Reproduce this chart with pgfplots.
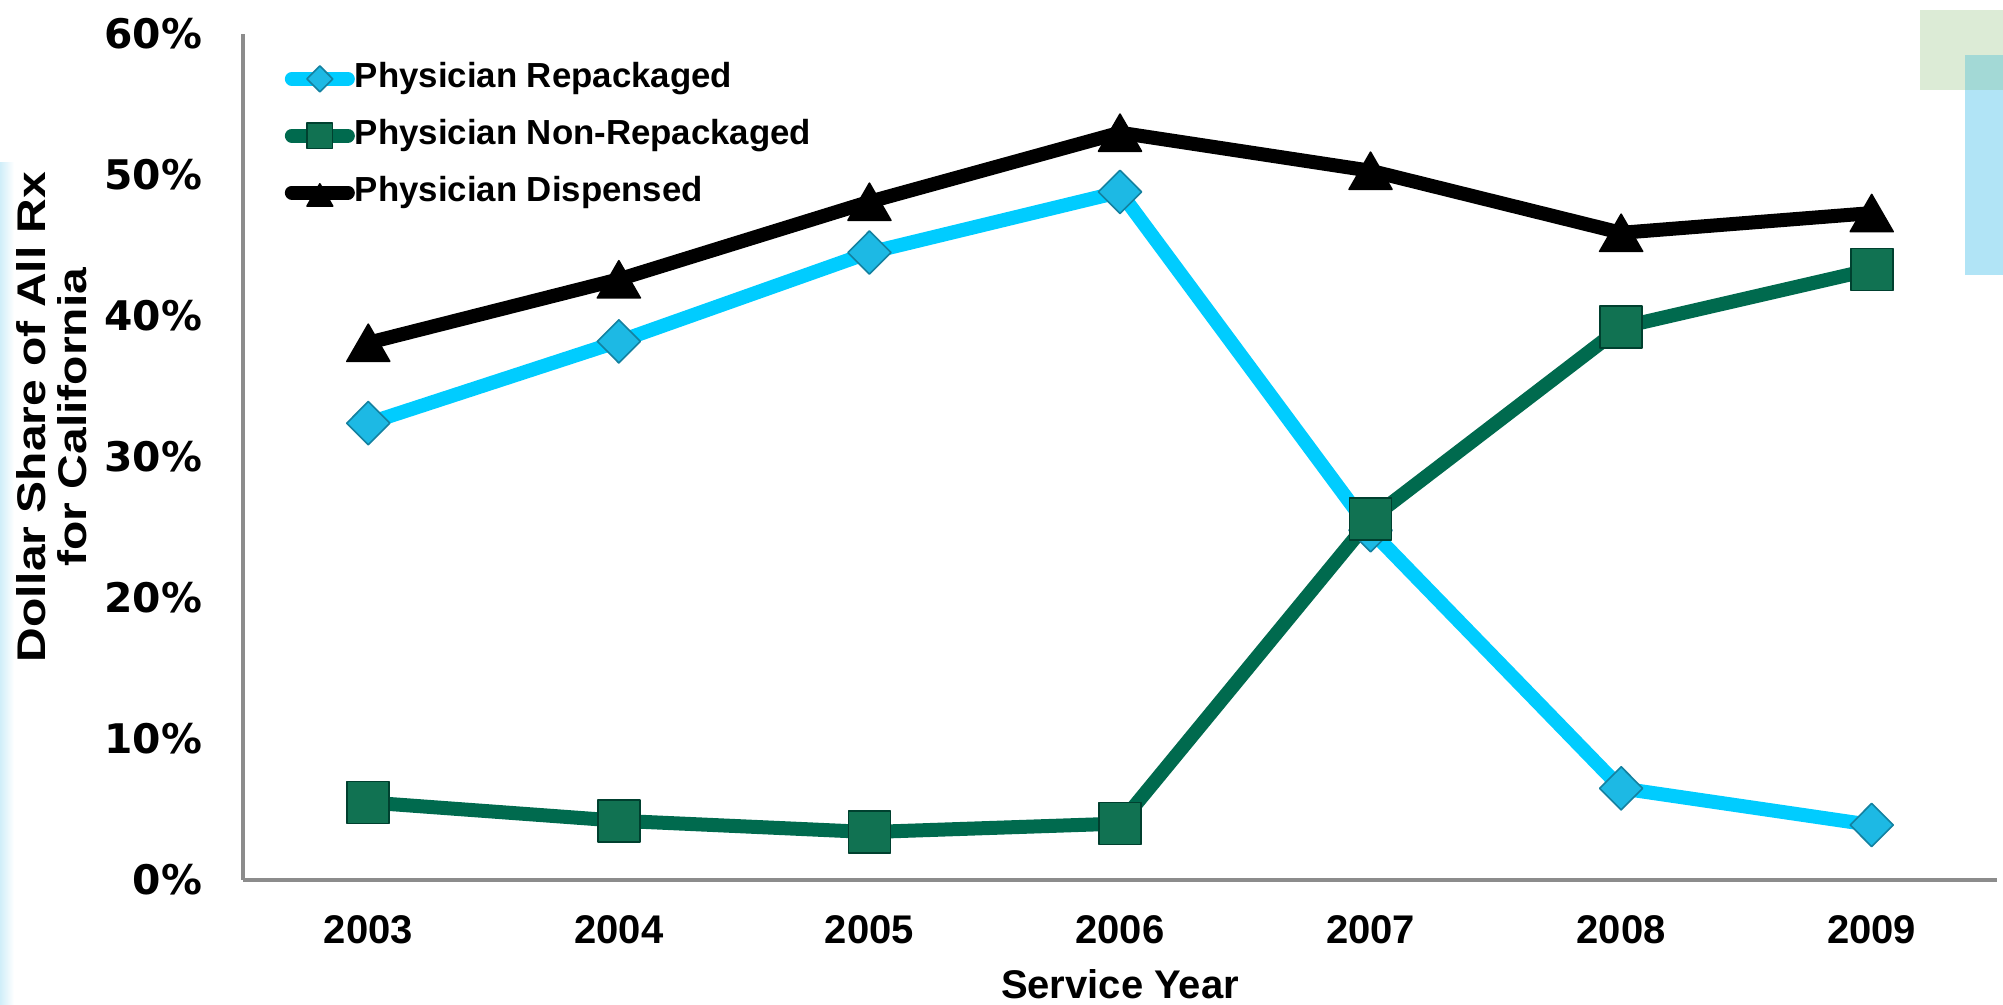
\documentclass[border=0pt]{standalone}
\usepackage{fontspec}
\setmainfont{Liberation Sans}
\newfontfamily\dejavu{DejaVu Sans}
\usepackage{graphicx}
\usepackage{pgfplots}
\pgfplotsset{compat=1.18}
\usepackage{pgfplotstable}

\definecolor{repack}{HTML}{00CCFF}
\definecolor{repackmark}{HTML}{1DB9E4}
\definecolor{nonrepack}{HTML}{006A4E}
\definecolor{nonrepackmark}{HTML}{117252}
\definecolor{axisgray}{HTML}{8C8C8C}
\definecolor{decogreen}{HTML}{DCEBD6}
\definecolor{decoblue}{HTML}{B1E4F6}
\definecolor{decoteal}{HTML}{A3D9D6}
\definecolor{decostrip}{HTML}{D0EEF9}

% dollar share (%) by service year
\pgfplotstableread{
idx year repack nonrepack dispensed
0 2003 32.4 5.5 38.1
1 2004 38.2 4.2 42.6
2 2005 44.5 3.4 48.1
3 2006 48.8 4.0 53.0
4 2007 24.8 25.6 50.3
5 2008 6.5 39.2 45.9
6 2009 3.9 43.3 47.3
}\datatable

\begin{document}
\begin{tikzpicture}
% page: 2003 x 1005 px, 0.25pt per px
\useasboundingbox (0,0) rectangle (500.75pt,251.25pt);
% slide decoration
\fill[decogreen] (480pt,228.75pt) rectangle (500.75pt,248.75pt);
\fill[decoblue] (491.25pt,182.5pt) rectangle (500.75pt,237.5pt);
\fill[decoteal] (491.25pt,228.75pt) rectangle (500.75pt,237.5pt);
\shade[left color=decostrip, right color=white] (0pt,0pt) rectangle (3.5pt,210.5pt);

\begin{axis}[
  at={(60.75pt,31.25pt)}, anchor=south west,
  scale only axis, width=438.5pt, height=211.5pt,
  xmin=-0.5, xmax=6.5, ymin=0, ymax=60,
  axis x line=bottom, axis y line=left,
  axis line style={-, draw=axisgray, line width=1.2pt},
  major tick length=0pt,
  xtick={0,1,2,3,4,5,6},
  xticklabels={2003,2004,2005,2006,2007,2008,2009},
  ytick={0,10,20,30,40,50,60},
  yticklabels={0\%,10\%,20\%,30\%,40\%,50\%,60\%},
  xticklabel style={anchor=center, yshift=-12.5pt, font=\fontsize{10}{12}\selectfont\bfseries},
  yticklabel style={anchor=east, inner sep=0pt, xshift=-10pt, font=\dejavu\fontsize{10.2}{12}\selectfont\bfseries},
  xlabel={Service Year},
  xlabel style={at={(axis description cs:0.5,-0.123)}, anchor=center, font=\fontsize{10}{12}\selectfont\bfseries},
  ylabel={\scalebox{1.2}[1]{Dollar Share of All Rx}\\\scalebox{1.2}[1]{for California}},
  ylabel style={at={(axis description cs:-0.109,0.547)}, anchor=center, rotate=0, align=center, font=\fontsize{10}{10.25}\selectfont\bfseries},
  clip=false,
  legend style={at={(axis description cs:0.0234,0.967)}, anchor=north west,
    draw=none, fill=none, inner sep=0pt, row sep=6.1pt,
    font=\fontsize{8.7}{10}\selectfont\bfseries,
    nodes={inner sep=0pt, text height=6.3pt, text depth=1.8pt}},
  legend cell align=left,
  legend image code/.code={
    \draw[#1, line cap=round, mark=none] (1.75pt,0pt) -- (15.75pt,0pt);
    \draw[#1, every mark/.append style={scale=0.6}] plot coordinates {(8.75pt,0pt)};
  },
]
\addplot[color=repack, line width=3.5pt, line join=round, mark=diamond*, mark size=5.4pt,
  mark options={xscale=1.33, fill=repackmark, draw=repackmark!70!black, line width=0.4pt}]
  table[x=idx, y=repack] {\datatable};
\addlegendentry{Physician Repackaged}
\addplot[color=nonrepack, line width=3.5pt, line join=round, mark=square*, mark size=5.25pt,
  mark options={fill=nonrepackmark, draw=nonrepack!60!black, line width=0.4pt}]
  table[x=idx, y=nonrepack] {\datatable};
\addlegendentry{Physician Non-Repackaged}
\addplot[color=black, line width=3.5pt, line join=round, mark=triangle*, mark size=6.2pt,
  mark options={yshift=-1.55pt, fill=black, draw=black, line width=0.4pt}]
  table[x=idx, y=dispensed] {\datatable};
\addlegendentry{Physician Dispensed}
\end{axis}
\end{tikzpicture}
\end{document}
